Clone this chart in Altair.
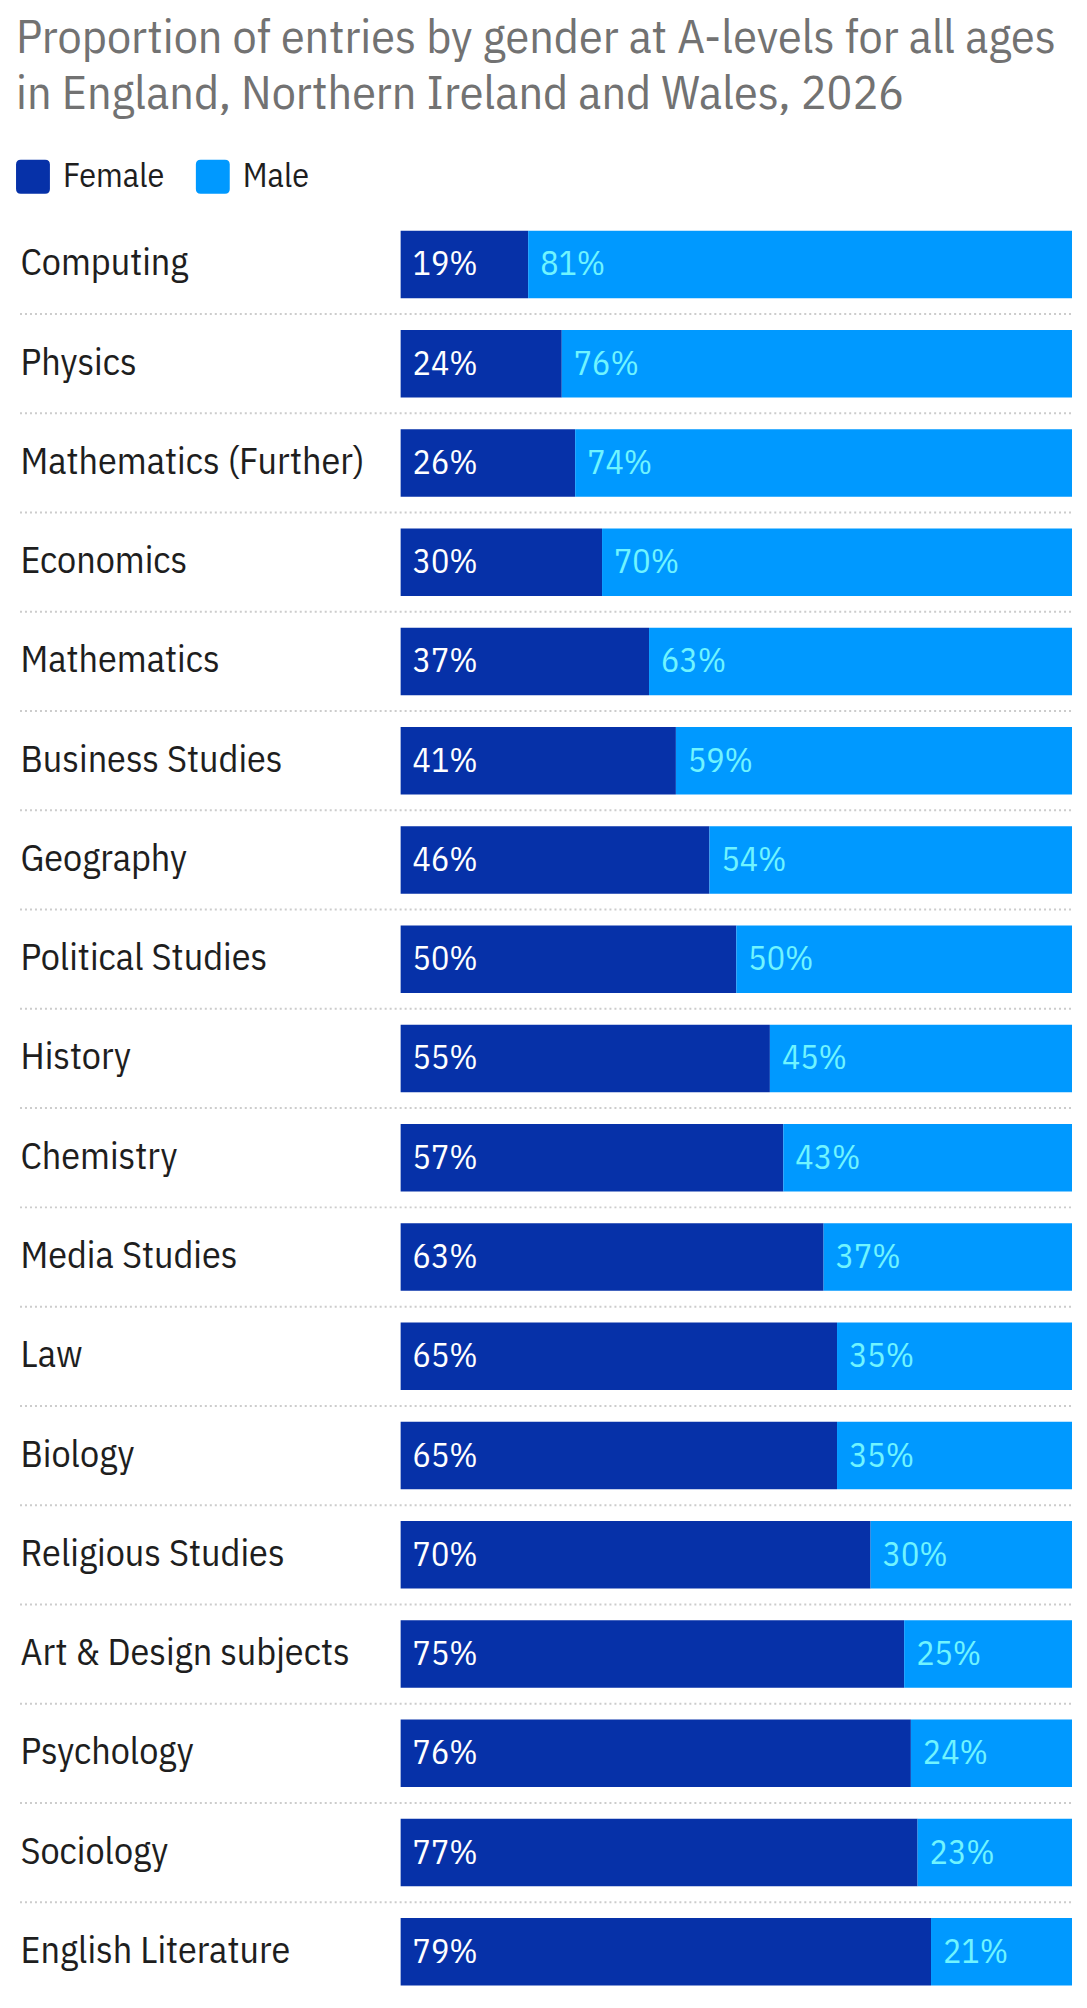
import altair as alt
import pandas as pd

subjects = ["Computing", "Physics", "Mathematics (Further)", "Economics", "Mathematics",
            "Business Studies", "Geography", "Political Studies", "History", "Chemistry",
            "Media Studies", "Law", "Biology", "Religious Studies", "Art & Design subjects",
            "Psychology", "Sociology", "English Literature"]
female = [19, 24, 26, 30, 37, 41, 46, 50, 55, 57, 63, 65, 65, 70, 75, 76, 77, 79]
male = [81, 76, 74, 70, 63, 59, 54, 50, 45, 43, 37, 35, 35, 30, 25, 24, 23, 21]
genders = ["Female", "Male"]
colors = ["#0631a8", "#0099ff"]
label_colors = ["#ffffff", "#70f4ff"]

rows = []
for s, f, m in zip(subjects, female, male):
    rows.append({"subject": s, "gender": "Female", "g": 0, "value": f, "label": f"{f}%"})
    rows.append({"subject": s, "gender": "Male", "g": 1, "value": m, "label": f"{m}%"})
df = pd.DataFrame(rows)
sep = pd.DataFrame({"subject": subjects[:-1]})

FONT = "'IBM Plex Sans Condensed', 'Roboto Condensed', sans-serif"
W = 672
STEP = 99.35
PI = 0.32
PO = 0.05
H = STEP * (len(subjects) - PI + 2 * PO)

yscale = alt.Scale(domain=subjects, paddingInner=PI, paddingOuter=PO)

base = alt.Chart(df).transform_stack(
    stack="value", groupby=["subject"], sort=[alt.SortField("g")], as_=["v0", "v1"]
)

bars = base.mark_bar(cornerRadius=0).encode(
    y=alt.Y("subject:N", scale=yscale, sort=subjects, title=None,
            axis=alt.Axis(labelAlign="left", labelPadding=381, labelFontSize=38,
                          labelFont=FONT, labelColor="#1e1e1e", domain=False, ticks=False,
                          labelLimit=400)),
    x=alt.X("v0:Q", scale=alt.Scale(domain=[0, 100], nice=False), axis=None),
    x2="v1:Q",
    color=alt.Color("gender:N", scale=alt.Scale(domain=genders, range=colors),
                    legend=alt.Legend(orient="none", direction="horizontal", title=None,
                                      legendX=-385, legendY=-66,
                                      symbolType="M-0.72,-1L0.72,-1Q1,-1 1,-0.72L1,0.72Q1,1 0.72,1L-0.72,1Q-1,1 -1,0.72L-1,-0.72Q-1,-1 -0.72,-1Z",
                                      symbolSize=1150, symbolStrokeWidth=0,
                                      labelFontSize=34, labelFont=FONT, labelColor="#1e1e1e",
                                      labelOffset=13, columnPadding=31)),
)

labels = base.mark_text(align="left", baseline="middle", dx=12, dy=1, fontSize=34, font=FONT).encode(
    y=alt.Y("subject:N", scale=yscale, sort=subjects),
    x=alt.X("v0:Q"),
    text="label:N",
    color=alt.Color("gender:N", scale=alt.Scale(domain=genders, range=label_colors), legend=None),
)

rules = alt.Chart(sep).mark_rule(strokeDash=[2, 3], strokeWidth=2, color="#cccccc",
                                 yOffset=STEP / 2).encode(
    y=alt.Y("subject:N", scale=yscale, sort=subjects, bandPosition=0.5),
    x=alt.value(-381),
    x2=alt.value(W),
)

chart = alt.layer(rules, bars, labels).resolve_scale(color="independent").properties(
    width=W, height=H,
    padding={"left": 8, "top": 6, "right": 6, "bottom": 0},
    title=alt.Title(["Proportion of entries by gender at A-levels for all ages",
                     "in England, Northern Ireland and Wales, 2026"],
                    anchor="start", frame="bounds", fontSize=48, font=FONT,
                    fontWeight="normal", color="#727272", lineHeight=56, offset=41),
).configure_view(stroke=None)

chart.save("out.html", embed_options={"renderer": "svg", "actions": False})
